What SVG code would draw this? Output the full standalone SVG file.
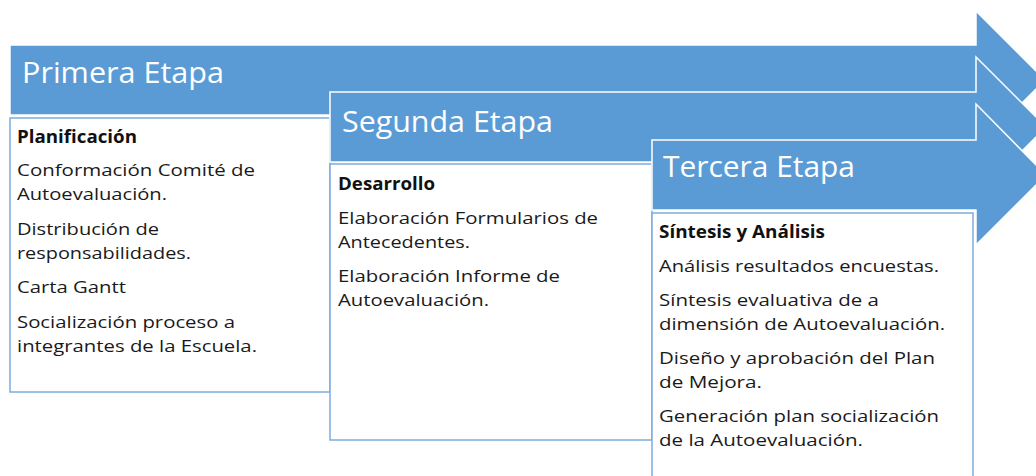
<svg xmlns="http://www.w3.org/2000/svg" width="1036" height="476" viewBox="0 0 1036 476">
<style>
.arrow{fill:#5B9BD5;stroke:#ffffff;stroke-width:1.5}
.box{fill:#ffffff;stroke:#7EACDE;stroke-width:1.5}
.title{font-family:"Open Sans","Noto Sans",sans-serif;font-size:29px;fill:#ffffff}
.body{font-family:"Open Sans","Noto Sans",sans-serif;font-size:17px;fill:#1a1a1a}
.head{font-family:"Open Sans","Noto Sans",sans-serif;font-size:17px;font-weight:bold;fill:#111111}
</style>
<rect width="1036" height="476" fill="#ffffff"/>
<g id="stage1">
<path class="arrow" d="M10,45 H976 V11 L1045,80 L976,149 V115 H10 Z"/>
<text class="title" x="22" y="83" textLength="202" lengthAdjust="spacingAndGlyphs">Primera Etapa</text>
<rect class="box" x="10" y="118" width="320" height="274"/>
<text class="head" x="17" y="143" textLength="120" lengthAdjust="spacingAndGlyphs">Planificación</text>
<text class="body" x="17" y="176" textLength="238" lengthAdjust="spacingAndGlyphs">Conformación Comité de</text>
<text class="body" x="17" y="200" textLength="150" lengthAdjust="spacingAndGlyphs">Autoevaluación.</text>
<text class="body" x="17" y="235" textLength="142" lengthAdjust="spacingAndGlyphs">Distribución de</text>
<text class="body" x="17" y="259" textLength="174" lengthAdjust="spacingAndGlyphs">responsabilidades.</text>
<text class="body" x="17" y="293" textLength="109" lengthAdjust="spacingAndGlyphs">Carta Gantt</text>
<text class="body" x="17" y="328" textLength="218" lengthAdjust="spacingAndGlyphs">Socialización proceso a</text>
<text class="body" x="17" y="352" textLength="240" lengthAdjust="spacingAndGlyphs">integrantes de la Escuela.</text>
</g>
<g id="stage2">
<path class="arrow" d="M330,92 H976 V57 L1046,127 L976,197 V162 H330 Z"/>
<text class="title" x="342" y="132" textLength="211" lengthAdjust="spacingAndGlyphs">Segunda Etapa</text>
<rect class="box" x="330" y="164" width="322" height="276"/>
<text class="head" x="338" y="190" textLength="97" lengthAdjust="spacingAndGlyphs">Desarrollo</text>
<text class="body" x="338" y="224" textLength="260" lengthAdjust="spacingAndGlyphs">Elaboración Formularios de</text>
<text class="body" x="338" y="248" textLength="132" lengthAdjust="spacingAndGlyphs">Antecedentes.</text>
<text class="body" x="338" y="282" textLength="222" lengthAdjust="spacingAndGlyphs">Elaboración Informe de</text>
<text class="body" x="338" y="306" textLength="151" lengthAdjust="spacingAndGlyphs">Autoevaluación.</text>
</g>
<g id="stage3">
<path class="arrow" d="M652,140 H976 V104 L1046,175 L976,245 V210 H652 Z"/>
<text class="title" x="663" y="177" textLength="192" lengthAdjust="spacingAndGlyphs">Tercera Etapa</text>
<rect class="box" x="652" y="213" width="321" height="275"/>
<text class="head" x="659" y="238" textLength="166" lengthAdjust="spacingAndGlyphs">Síntesis  y Análisis</text>
<text class="body" x="659" y="272" textLength="280" lengthAdjust="spacingAndGlyphs">Análisis resultados encuestas.</text>
<text class="body" x="659" y="306" textLength="220" lengthAdjust="spacingAndGlyphs">Síntesis evaluativa de a</text>
<text class="body" x="659" y="330" textLength="286" lengthAdjust="spacingAndGlyphs">dimensión de Autoevaluación.</text>
<text class="body" x="659" y="364" textLength="276" lengthAdjust="spacingAndGlyphs">Diseño y aprobación del Plan</text>
<text class="body" x="659" y="388" textLength="103" lengthAdjust="spacingAndGlyphs">de Mejora.</text>
<text class="body" x="659" y="422" textLength="280" lengthAdjust="spacingAndGlyphs">Generación plan socialización</text>
<text class="body" x="659" y="446" textLength="204" lengthAdjust="spacingAndGlyphs">de la Autoevaluación.</text>
</g>
<g id="connectors"/>
</svg>
